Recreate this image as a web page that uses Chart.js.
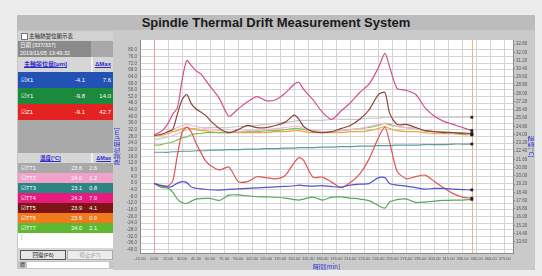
<!DOCTYPE html>
<html lang="zh-Hant">
<head>
<meta charset="UTF-8">
<meta name="viewport" content="width=device-width, initial-scale=1.0">
<title>Spindle Thermal Drift Measurement System</title>
<style>
    body {
        margin: 0;
        width: 542px;
        height: 276px;
        overflow: hidden;
        background: #ececec;
        font-family: "Liberation Sans", "Noto Sans CJK TC", sans-serif;
    }
    .frame {
        position: absolute;
        left: 17px;
        top: 15px;
        width: 518px;
        height: 254px;
        background: #c4c4c4;
    }
    .titlebar {
        position: absolute;
        left: 0;
        top: 0;
        width: 518px;
        height: 15px;
        background: #bcbcbc;
        text-align: center;
        font-weight: bold;
        font-size: 13px;
        line-height: 15px;
        color: #1a1a1a;
    }
    .side {
        position: absolute;
        left: 1px;
        top: 16px;
        width: 95px;
        height: 238px;
        background: #a8a8a8;
    }
    .side > div {
        position: absolute;
        left: 0;
        width: 95px;
        color: #fff;
        white-space: nowrap;
        overflow: hidden;
    }
    .side span { position: absolute; top: 0; }
    .nm { left: 3px; }
    .d1 { right: 28px; }
    .d2 { right: 2px; }
    .t1 { right: 31px; }
    .t2 { right: 16px; }
    .hd { color: #2b2bd0 !important; text-decoration: underline; font-weight: bold; }
    .btn {
        position: absolute;
        top: 2px;
        height: 8px;
        line-height: 8px;
        font-size: 5.5px;
        text-align: center;
        border: 1px solid #555;
        background: #e6e6e6;
        color: #111;
    }
    #chartBox {
        position: absolute;
        left: 96px;
        top: 15px;
        width: 422px;
        height: 240px;
        background: #cacaca;
    }
</style>
</head>
<body>
<div class="frame">
    <div class="titlebar">Spindle Thermal Drift Measurement System</div>
    <div class="side" id="side"></div>
    <div id="chartBox"><canvas id="chart" width="422" height="240"></canvas></div>
</div>

<script src="https://cdn.jsdelivr.net/npm/chart.js"></script>
<script>
    // sample times [min]
    const times = [0, 5, 10, 15, 20, 25, 30, 35, 40, 45, 50, 55, 60,
        70, 80, 90, 100, 110, 120, 130, 140, 150,
        155,
        160, 170, 180, 190, 200, 210, 220, 230, 240,
        247, 252,
        260, 270, 280, 290, 300, 310, 320, 330, 340];

    // spindle displacement [um]
    const x1 = [-0.2, -1.2, -1.8, -2.4, -1.8, 0.0, 0.9, 0.3, -2.4, -3.1, -3.5, -3.7, -4.0,
        -4.2, -3.8, -3.5, -3.2, -2.9, -2.6, -2.3, -2.0, -1.6,
        -1.2,
        -1.5, -1.8, -1.5, -2.1, -2.4, -1.2, -0.6, -0.3, 3.3,
        3.3, -0.3,
        -1.2, -1.8, -2.7, -3.6, -3.2, -3.2, -3.6, -3.9, -4.1];
    const y1 = [-0.2, -1.8, -2.7, -3.0, -5.4, -9.6, -11.7, -12.2, -10.8, -9.6, -9.3, -9.2, -9.2,
        -10.4, -7.2, -7.1, -7.6, -8.1, -8.3, -8.5, -9.0, -9.9,
        -10.2,
        -9.6, -8.4, -10.2, -8.4, -8.3, -9.0, -9.6, -10.5, -13.5,
        -15.0, -11.4,
        -9.9, -9.6, -11.6, -11.4, -10.8, -10.4, -10.2, -10.2, -9.8];
    const z1 = [-0.2, -1.0, -1.5, -1.7, 1.2, 16.8, 30.6, 33.6, 30.6, 24.0, 18.6, 13.5, 10.8,
        7.9, 9.7, 1.0, 0.9, 3.8, 3.3, 2.6, 4.4, 12.3,
        15.3,
        13.7, 3.6, 3.6, 0.6, -2.7, 0.4, 5.4, 14.4, 27.3,
        33.6, 24.6,
        7.2, 2.6, 3.9, 4.8, 1.0, -3.0, -6.3, -8.4, -9.1];

    // temperatures [C]
    const tt1 = [23.5, 23.6, 23.7, 23.8, 23.9, 24.1, 24.3, 24.5, 24.6, 24.6, 24.7, 24.7, 24.7,
        24.7, 24.7, 24.8, 24.8, 24.9, 25.0, 25.1, 25.2, 25.3,
        25.4,
        25.4, 25.4, 25.4, 25.5, 25.5, 25.5, 25.5, 25.6, 25.6,
        25.7, 25.7,
        25.7, 25.7, 25.7, 25.7, 25.7, 25.7, 25.7, 25.7, 25.7];
    const tt2 = [23.9, 24.0, 24.1, 24.3, 24.5, 24.7, 24.9, 25.0, 24.9, 24.8, 24.7, 24.6, 24.5,
        24.4, 24.3, 24.3, 24.4, 24.4, 24.5, 24.6, 24.7, 24.8,
        24.8,
        24.6, 24.4, 24.3, 24.3, 24.4, 24.5, 24.6, 24.8, 25.0,
        25.1, 24.9,
        24.8, 24.7, 24.6, 24.4, 24.3, 24.2, 24.1, 24.1, 24.0];
    const tt3 = [22.3, 22.3, 22.3, 22.3, 22.35, 22.35, 22.4, 22.4, 22.4, 22.45, 22.45, 22.45, 22.5,
        22.5, 22.55, 22.55, 22.6, 22.6, 22.65, 22.65, 22.7, 22.7,
        22.75,
        22.75, 22.75, 22.8, 22.8, 22.85, 22.85, 22.9, 22.9, 22.95,
        22.95, 22.95,
        23.0, 23.0, 23.0, 23.05, 23.05, 23.05, 23.1, 23.1, 23.1];
    const tt4 = [24.0, 24.2, 24.5, 25.1, 26.0, 26.6, 29.3, 31.2, 30.7, 30.2, 29.9, 29.3, 28.7,
        27.5, 25.8, 26.5, 27.2, 27.7, 27.3, 27.4, 28.0, 28.9,
        29.1,
        28.4, 27.4, 26.2, 25.5, 26.3, 27.1, 28.1, 28.9, 30.5,
        31.9, 30.6,
        28.5, 28.3, 27.9, 26.6, 25.8, 25.3, 25.0, 24.7, 24.4];
    const tt5 = [23.9, 24.0, 24.1, 24.3, 24.5, 26.0, 27.4, 27.9, 27.0, 26.5, 26.2, 25.9, 25.4,
        24.6, 24.2, 24.5, 24.9, 24.7, 24.7, 24.9, 25.2, 25.9,
        25.5,
        24.8, 24.3, 24.2, 24.3, 24.6, 24.9, 25.5, 26.4, 27.9,
        28.1, 26.1,
        25.0, 25.0, 24.7, 24.4, 24.3, 24.2, 24.2, 24.1, 24.1];
    const tt6 = [23.9, 23.9, 24.0, 24.1, 24.3, 24.4, 24.6, 24.7, 24.6, 24.5, 24.4, 24.4, 24.3,
        24.2, 24.2, 24.2, 24.2, 24.2, 24.2, 24.3, 24.3, 24.4,
        24.4,
        24.3, 24.2, 24.2, 24.2, 24.2, 24.3, 24.3, 24.4, 24.6,
        24.8, 24.6,
        24.4, 24.3, 24.3, 24.2, 24.1, 24.1, 24.1, 24.0, 24.0];
    const tt7 = [23.0, 23.0, 23.1, 23.2, 23.3, 23.5, 23.7, 23.8, 24.0, 24.1, 24.1, 24.2, 24.2,
        24.2, 24.2, 24.3, 24.3, 24.3, 24.4, 24.4, 24.5, 24.6,
        24.6,
        24.5, 24.4, 24.3, 24.3, 24.4, 24.5, 24.6, 24.7, 24.9,
        25.1, 25.0,
        24.8, 24.7, 24.6, 24.4, 24.3, 24.3, 24.2, 24.2, 24.1];

    // side panel readouts
    const dispNames = ['X1', 'Y1', 'Z1'];
    const dispNow = ['-4.1', '-9.8', '-9.1'];
    const dispMax = ['7.6', '14.0', '42.7'];
    const tempNames = ['TT1', 'TT2', 'TT3', 'TT4', 'TT5', 'TT6', 'TT7'];
    const tempNow = ['23.6', '24.0', '23.1', '24.3', '23.9', '23.9', '24.0'];
    const tempMax = ['2.6', '1.2', '0.8', '7.9', '4.1', '0.9', '2.1'];

    // axis ticks
    const xTicks = [-15, 0, 15, 30, 45, 60, 75, 90, 105, 120, 135, 150, 165, 180, 195,
        210, 225, 240, 255, 270, 285, 300, 315, 330, 345, 360, 375];
    const leftTicks = [-40, -36, -32, -28, -24, -20, -16, -12, -8, -4, 0, 4, 8, 12, 16,
        20, 24, 28, 32, 36, 40, 44, 48, 52, 56, 60, 64, 68, 72, 76, 80];
    const rightTicks = [13.6, 14.4, 15.2, 16.0, 16.8, 17.6, 18.4, 19.2, 20.0, 20.8, 21.6, 22.4, 23.2,
        24.0, 24.8, 25.6, 26.4, 27.2, 28.0, 28.8, 29.6, 30.4, 31.2, 32.0, 32.8];

    // cursor lines (start / current sample)
    const cursorTimes = [0, 340];

    const dispRowColors = ['#2352b5', '#1b8a3c', '#e52222'];
    const dispLineColors = ['#5555cc', '#5aa65a', '#e05555'];
    const tempRowColors = ['#a9a9a9', '#f2a2c9', '#2b8585', '#e81a7d', '#7c1616', '#f07a1c', '#5fb832'];
    const tempLineColors = ['#c9c9c9', '#f2b8d4', '#5e9c9c', '#d2508f', '#8e4438', '#f0a444', '#7cc45a'];

    // ---- side panel ----
    const side = document.getElementById('side');
    function addBox(top, height, bg, html, fontSize) {
        const d = document.createElement('div');
        d.style.top = top + 'px';
        d.style.height = height + 'px';
        d.style.lineHeight = height + 'px';
        d.style.background = bg;
        d.style.fontSize = (fontSize || 6) + 'px';
        d.innerHTML = html;
        side.appendChild(d);
        return d;
    }

    addBox(0, 10, '#d2d2d2',
        '<span style="left:3px;top:2px;width:5px;height:5px;background:#fff;border:1px solid #777"></span>' +
        '<span style="left:11px;color:#222">主軸熱變位顯示表</span>', 5.5);
    const dateBox = addBox(10, 16, '#8a8a8a',
        '<span style="left:2px;top:-4px">日期 [337/337]</span>' +
        '<span style="left:2px;top:4px">2019/11/05 13:49:32</span>', 5.5);
    dateBox.style.width = '73px';
    addBox(26, 15, '#d6d6d6',
        '<span class="hd" style="left:6px">主軸變位量[μm]</span>' +
        '<span style="left:73px;top:0;width:2px;height:15px;background:#eee"></span>' +
        '<span class="hd d2">ΔMax</span>', 6);
    dispNames.forEach((n, i) => {
        addBox(41 + i * 16, 16, dispRowColors[i],
            '<span class="nm">☑' + n + '</span>' +
            '<span class="d1">' + dispNow[i] + '</span>' +
            '<span class="d2">' + dispMax[i] + '</span>', 6);
    });
    addBox(122, 10, '#d6d6d6',
        '<span class="hd" style="left:22px">溫度(°C)</span>' +
        '<span style="left:73px;top:0;width:2px;height:10px;background:#eee"></span>' +
        '<span class="hd d2">ΔMax</span>', 5.5);
    tempNames.forEach((n, i) => {
        addBox(132 + i * 10, 10, tempRowColors[i],
            '<span class="nm">☑' + n + '</span>' +
            '<span class="t1">' + tempNow[i] + '</span>' +
            '<span class="t2">' + tempMax[i] + '</span>', 5.5);
    });
    addBox(202, 15, '#ffffff', '<span style="left:3px;top:-3px;color:#999">|</span>', 5.5);
    const btnRow = addBox(217, 13, '#d8d8d8',
        '<div class="btn" style="left:2px;width:44px">回復(F6)</div>' +
        '<div class="btn" style="left:49px;width:44px;color:#999;border-color:#aaa;background:#ececec">停止(F7)</div>', 5.5);
    addBox(230, 8, '#c4c4c4',
        '<span style="left:2px;top:-1px;color:#333">週</span>' +
        '<span style="left:9px;top:1px;width:82px;height:6px;background:#fff"></span>', 5);

    // ---- chart ----
    const tickFont = { family: 'Liberation Sans', size: 4.5 };
    const titleColor = '#2d2dd2';

    function series(vals) {
        return times.map((t, i) => ({ x: t, y: vals[i] }));
    }
    function makeSet(label, vals, color, axis) {
        return {
            label: label,
            data: series(vals),
            yAxisID: axis,
            borderColor: color,
            borderWidth: 1.2,
            tension: 0.25,
            pointStyle: 'rect',
            pointRadius: ctx => ctx.dataIndex === times.length - 1 ? 1.6 : 0,
            pointBackgroundColor: '#222',
            pointBorderColor: '#222',
            pointBorderWidth: 0.5
        };
    }

    const datasets = [
        makeSet('X1', x1, dispLineColors[0], 'yL'),
        makeSet('Y1', y1, dispLineColors[1], 'yL'),
        makeSet('Z1', z1, dispLineColors[2], 'yL'),
        makeSet('TT4', tt4, tempLineColors[3], 'yR'),
        makeSet('TT5', tt5, tempLineColors[4], 'yR'),
        makeSet('TT2', tt2, tempLineColors[1], 'yR'),
        makeSet('TT7', tt7, tempLineColors[6], 'yR'),
        makeSet('TT6', tt6, tempLineColors[5], 'yR'),
        makeSet('TT1', tt1, tempLineColors[0], 'yR'),
        makeSet('TT3', tt3, tempLineColors[2], 'yR')
    ];

    const plotBg = {
        id: 'plotBg',
        beforeDraw(chart) {
            const a = chart.chartArea;
            chart.ctx.save();
            chart.ctx.fillStyle = '#ffffff';
            chart.ctx.fillRect(a.left, a.top, a.right - a.left, a.bottom - a.top);
            chart.ctx.restore();
        }
    };

    const cursorColors = ['#e6a0a0', '#eab68a'];
    const cursors = {
        id: 'cursors',
        beforeDatasetsDraw(chart) {
            const { ctx, chartArea, scales } = chart;
            cursorTimes.forEach((t, i) => {
                const x = Math.round(scales.x.getPixelForValue(t)) + 0.5;
                ctx.save();
                ctx.strokeStyle = cursorColors[i];
                ctx.lineWidth = 1;
                ctx.beginPath();
                ctx.moveTo(x, chartArea.top);
                ctx.lineTo(x, chartArea.bottom);
                ctx.stroke();
                ctx.restore();
            });
        }
    };

    new Chart(document.getElementById('chart'), {
        type: 'line',
        data: { datasets: datasets },
        plugins: [plotBg, cursors],
        options: {
            responsive: false,
            animation: false,
            events: [],
            layout: { padding: { top: 10, left: 0, right: 0, bottom: 0 } },
            plugins: { legend: { display: false }, tooltip: { enabled: false } },
            scales: {
                x: {
                    type: 'linear',
                    position: 'bottom',
                    min: -15,
                    max: 384,
                    afterBuildTicks: s => { s.ticks = xTicks.map(v => ({ value: v })); },
                    afterFit: s => { s.height = 17; },
                    ticks: {
                        autoSkip: false,
                        maxRotation: 0,
                        padding: 1,
                        font: { family: 'Liberation Sans', size: 4 },
                        color: '#555',
                        callback: v => v.toFixed(2)
                    },
                    grid: { color: '#d4d4d4', tickLength: 2 },
                    border: { color: '#8a8a8a' },
                    title: {
                        display: true,
                        text: '時間[min]',
                        color: titleColor,
                        font: { family: 'Noto Sans CJK TC', size: 6 },
                        padding: 0
                    }
                },
                yL: {
                    type: 'linear',
                    position: 'left',
                    min: -42,
                    max: 86,
                    afterBuildTicks: s => { s.ticks = leftTicks.map(v => ({ value: v })); },
                    afterFit: s => { s.width = 27; },
                    ticks: {
                        autoSkip: false,
                        padding: 1,
                        font: tickFont,
                        color: '#555',
                        callback: v => v.toFixed(1)
                    },
                    grid: { color: '#d4d4d4', tickLength: 2 },
                    border: { color: '#8a8a8a' },
                    title: {
                        display: true,
                        text: '熱變位量[μm]',
                        color: titleColor,
                        font: { family: 'Noto Sans CJK TC', size: 6 },
                        padding: 0
                    }
                },
                yR: {
                    type: 'linear',
                    position: 'right',
                    min: 12.53,
                    max: 33.19,
                    afterBuildTicks: s => { s.ticks = rightTicks.map(v => ({ value: v })); },
                    afterFit: s => { s.width = 22; },
                    ticks: {
                        autoSkip: false,
                        padding: 1,
                        font: tickFont,
                        color: '#555',
                        callback: v => v.toFixed(2)
                    },
                    grid: { drawOnChartArea: false, color: '#8a8a8a', tickLength: 2 },
                    border: { color: '#8a8a8a' },
                    title: {
                        display: true,
                        text: '溫度[°C]',
                        color: titleColor,
                        font: { family: 'Noto Sans CJK TC', size: 6 },
                        padding: 0
                    }
                }
            }
        }
    });
</script>
</body>
</html>
